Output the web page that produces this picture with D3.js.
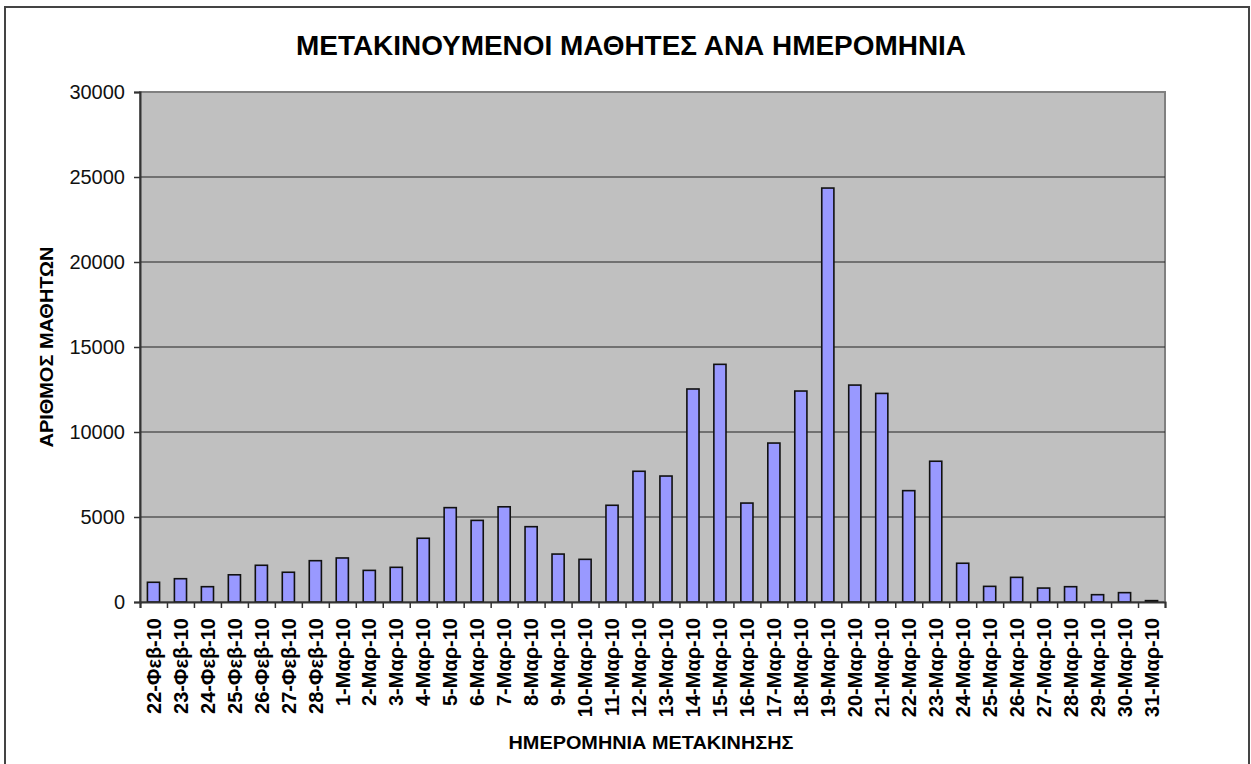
<!DOCTYPE html>
<html>
<head>
<meta charset="utf-8">
<script src="https://cdn.jsdelivr.net/npm/d3@7"></script>
<style>
  body { margin: 0; background: #fff; }
  svg { display: block; font-family: "Liberation Sans", Arial, sans-serif; }
</style>
</head>
<body>
<div id="chart"></div>
<script>
// Dates (category labels)
const dates = [
  '22-Φεβ-10', '23-Φεβ-10', '24-Φεβ-10', '25-Φεβ-10', '26-Φεβ-10', '27-Φεβ-10', '28-Φεβ-10',
  '1-Μαρ-10', '2-Μαρ-10', '3-Μαρ-10', '4-Μαρ-10', '5-Μαρ-10', '6-Μαρ-10', '7-Μαρ-10',
  '8-Μαρ-10', '9-Μαρ-10', '10-Μαρ-10', '11-Μαρ-10', '12-Μαρ-10', '13-Μαρ-10', '14-Μαρ-10',
  '15-Μαρ-10', '16-Μαρ-10', '17-Μαρ-10', '18-Μαρ-10', '19-Μαρ-10', '20-Μαρ-10', '21-Μαρ-10',
  '22-Μαρ-10', '23-Μαρ-10', '24-Μαρ-10', '25-Μαρ-10', '26-Μαρ-10', '27-Μαρ-10', '28-Μαρ-10',
  '29-Μαρ-10', '30-Μαρ-10', '31-Μαρ-10'
];

// Number of students moved per date
const students = [
  1160, 1370, 900, 1600, 2160, 1750, 2430,
  2590, 1860, 2040, 3750, 5550, 4800, 5600,
  4430, 2820, 2510, 5690, 7690, 7410, 12530,
  13980, 5820, 9350, 12410, 24350, 12760, 12270,
  6550, 8280, 2280, 920, 1450, 820, 900,
  430, 550, 80
];

const yTicks = [0, 5000, 10000, 15000, 20000, 25000, 30000];

const width = 1251, height = 764;
const plot = { left: 140, right: 1165, top: 92, bottom: 602 };

const svg = d3.select('#chart')
  .append('svg')
  .attr('width', width)
  .attr('height', height);

// outer frame
svg.append('rect')
  .attr('x', 5).attr('y', 7)
  .attr('width', 1244).attr('height', 780)
  .attr('fill', '#fff')
  .attr('stroke', '#444')
  .attr('stroke-width', 2);

const x = d3.scaleBand()
  .domain(dates)
  .range([plot.left, plot.right])
  .paddingInner(0.55)
  .paddingOuter(0.275);

const y = d3.scaleLinear()
  .domain([0, 30000])
  .range([plot.bottom, plot.top]);

// plot area
svg.append('rect')
  .attr('x', plot.left).attr('y', plot.top)
  .attr('width', plot.right - plot.left)
  .attr('height', plot.bottom - plot.top)
  .attr('fill', '#c0c0c0')
  .attr('stroke', '#808080')
  .attr('stroke-width', 2);

// gridlines
svg.append('g')
  .selectAll('line')
  .data(yTicks.filter(d => d > 0 && d < 30000))
  .join('line')
  .attr('x1', plot.left).attr('x2', plot.right)
  .attr('y1', d => y(d)).attr('y2', d => y(d))
  .attr('stroke', '#222')
  .attr('stroke-width', 1);

// bars
svg.append('g')
  .selectAll('rect')
  .data(dates)
  .join('rect')
  .attr('x', d => x(d))
  .attr('width', x.bandwidth())
  .attr('y', (d, i) => y(students[i]))
  .attr('height', (d, i) => y(0) - y(students[i]))
  .attr('fill', '#9999ff')
  .attr('stroke', '#111')
  .attr('stroke-width', 1.6);

// y axis
const yAxis = svg.append('g')
  .attr('transform', `translate(${plot.left},0)`)
  .call(d3.axisLeft(y).tickValues(yTicks).tickSize(6).tickPadding(9).tickFormat(d3.format('d')));
yAxis.select('.domain').attr('stroke', '#333').attr('stroke-width', 2);
yAxis.selectAll('.tick line').attr('stroke', '#333').attr('stroke-width', 1.5);
yAxis.selectAll('.tick text')
  .attr('fill', '#111')
  .style('font-size', '20px')
  .style('font-family', '"Liberation Sans", Arial, sans-serif');

// x axis: tick marks at category boundaries
const xIndex = d3.scaleLinear().domain([0, dates.length]).range([plot.left, plot.right]);
const xTickAxis = svg.append('g')
  .attr('transform', `translate(0,${plot.bottom})`)
  .call(d3.axisBottom(xIndex).tickValues(d3.range(dates.length + 1)).tickSize(6).tickFormat(''));
xTickAxis.select('.domain').attr('stroke', '#333').attr('stroke-width', 2);
xTickAxis.selectAll('.tick line').attr('stroke', '#333').attr('stroke-width', 1.5);

// x axis labels (rotated)
const xAxis = svg.append('g')
  .attr('transform', `translate(0,${plot.bottom})`)
  .call(d3.axisBottom(x).tickSize(0));
xAxis.select('.domain').remove();
xAxis.selectAll('.tick text')
  .attr('transform', 'rotate(-90)')
  .attr('x', -16)
  .attr('y', 0)
  .attr('dy', '0.36em')
  .attr('text-anchor', 'end')
  .attr('fill', '#000')
  .style('font-size', '20px')
  .style('font-weight', 'bold')
  .style('font-family', '"Liberation Sans", Arial, sans-serif');

// title
svg.append('text')
  .attr('x', 631)
  .attr('y', 55)
  .attr('text-anchor', 'middle')
  .attr('textLength', 670)
  .attr('lengthAdjust', 'spacingAndGlyphs')
  .style('font-size', '27px')
  .style('font-weight', 'bold')
  .text('ΜΕΤΑΚΙΝΟΥΜΕΝΟΙ ΜΑΘΗΤΕΣ ΑΝΑ ΗΜΕΡΟΜΗΝΙΑ');

// axis titles
svg.append('text')
  .attr('x', 651)
  .attr('y', 749)
  .attr('text-anchor', 'middle')
  .attr('textLength', 285)
  .attr('lengthAdjust', 'spacingAndGlyphs')
  .style('font-size', '18px')
  .style('font-weight', 'bold')
  .text('ΗΜΕΡΟΜΗΝΙΑ ΜΕΤΑΚΙΝΗΣΗΣ');

svg.append('text')
  .attr('transform', 'translate(53,347) rotate(-90)')
  .attr('text-anchor', 'middle')
  .attr('textLength', 201)
  .attr('lengthAdjust', 'spacingAndGlyphs')
  .style('font-size', '18px')
  .style('font-weight', 'bold')
  .text('ΑΡΙΘΜΟΣ ΜΑΘΗΤΩΝ');
</script>
</body>
</html>
